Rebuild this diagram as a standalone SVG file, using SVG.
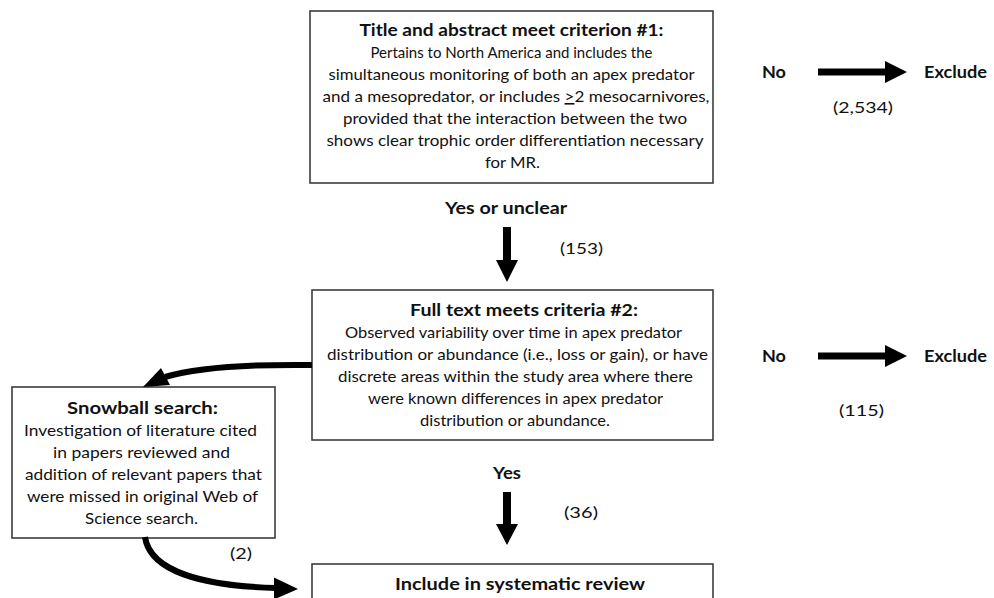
<svg xmlns="http://www.w3.org/2000/svg" width="994" height="598" viewBox="0 0 994 598">
<style>
.box{fill:#fff;stroke:#3c3c3c;stroke-width:1.6}
.t{font-family:Lato,"Liberation Sans",sans-serif;font-size:16px;fill:#111;text-anchor:middle}
.b{font-family:Lato,"Liberation Sans",sans-serif;font-size:17.5px;font-weight:bold;fill:#111;text-anchor:middle}
.arr{fill:#000}
.crv{fill:none;stroke:#000;stroke-width:6}
</style>
<rect width="994" height="598" fill="#fff"/>
<g id="criterion1">
<rect class="box" x="310" y="11" width="403" height="172"/>
<text class="b" x="511.5" y="36" textLength="304" lengthAdjust="spacingAndGlyphs">Title and abstract meet criterion #1:</text>
<text class="t" x="511.5" y="58" textLength="282" lengthAdjust="spacingAndGlyphs">Pertains to North America and includes the</text>
<text class="t" x="511.5" y="80" textLength="366" lengthAdjust="spacingAndGlyphs">simultaneous monitoring of both an apex predator</text>
<text class="t" x="516" y="102" textLength="387" lengthAdjust="spacingAndGlyphs">and a mesopredator, or includes <tspan style="text-decoration:underline">&gt;</tspan>2 mesocarnivores,</text>
<text class="t" x="515" y="124" textLength="344" lengthAdjust="spacingAndGlyphs">provided that the interaction between the two</text>
<text class="t" x="515" y="146" textLength="377" lengthAdjust="spacingAndGlyphs">shows clear trophic order differentiation necessary</text>
<text class="t" x="512.5" y="168" textLength="55" lengthAdjust="spacingAndGlyphs">for MR.</text>
</g>
<g id="criterion2">
<rect class="box" x="312" y="290" width="401" height="150"/>
<text class="b" x="524" y="316" textLength="228" lengthAdjust="spacingAndGlyphs">Full text meets criteria #2:</text>
<text class="t" x="513.5" y="338" textLength="337" lengthAdjust="spacingAndGlyphs">Observed variability over time in apex predator</text>
<text class="t" x="517.5" y="360" textLength="381" lengthAdjust="spacingAndGlyphs">distribution or abundance (i.e., loss or gain), or have</text>
<text class="t" x="515.5" y="382" textLength="355" lengthAdjust="spacingAndGlyphs">discrete areas within the study area where there</text>
<text class="t" x="515.5" y="404" textLength="295" lengthAdjust="spacingAndGlyphs">were known differences in apex predator</text>
<text class="t" x="515" y="426" textLength="190" lengthAdjust="spacingAndGlyphs">distribution or abundance.</text>
</g>
<g id="snowball">
<rect class="box" x="12" y="387" width="263" height="151"/>
<text class="b" x="142.5" y="414" textLength="151" lengthAdjust="spacingAndGlyphs">Snowball search:</text>
<text class="t" x="140.5" y="436" textLength="233" lengthAdjust="spacingAndGlyphs">Investigation of literature cited</text>
<text class="t" x="141.5" y="458" textLength="177" lengthAdjust="spacingAndGlyphs">in papers reviewed and</text>
<text class="t" x="143.5" y="480" textLength="237" lengthAdjust="spacingAndGlyphs">addition of relevant papers that</text>
<text class="t" x="142.5" y="502" textLength="231" lengthAdjust="spacingAndGlyphs">were missed in original Web of</text>
<text class="t" x="141.5" y="524" textLength="113" lengthAdjust="spacingAndGlyphs">Science search.</text>
</g>
<g id="include">
<rect class="box" x="312" y="564" width="401" height="50"/>
<text class="b" x="520" y="590" textLength="250" lengthAdjust="spacingAndGlyphs">Include in systematic review</text>
</g>
<g id="exclude1">
<text class="b" x="955.5" y="78" textLength="63" lengthAdjust="spacingAndGlyphs">Exclude</text>
</g>
<g id="exclude2">
<text class="b" x="955.5" y="362" textLength="63" lengthAdjust="spacingAndGlyphs">Exclude</text>
</g>
<g id="connectors">
<polygon class="arr" points="503,227 511,227 511,260 518,260 507,282 496,260 503,260"/>
<polygon class="arr" points="503,492 511,492 511,524 518,524 507,545 496,524 503,524"/>
<polygon class="arr" points="818,68.5 885,68.5 885,61 907,72 885,83 885,75.5 818,75.5"/>
<polygon class="arr" points="818,352.5 885,352.5 885,345 907,356 885,367 885,359.5 818,359.5"/>
<path class="crv" d="M312,365 C232,364 192,369 165,377"/>
<polygon class="arr" points="143,387 161,368 170,385"/>
<path class="crv" d="M145,537 C150,572 205,586 276,588"/>
<polygon class="arr" points="298,589 274,577.5 274,599.5"/>
<text class="b" x="506" y="214" textLength="122" lengthAdjust="spacingAndGlyphs">Yes or unclear</text>
<text class="t" x="581.5" y="254" textLength="43" lengthAdjust="spacingAndGlyphs">(153)</text>
<text class="b" x="507" y="479" textLength="28" lengthAdjust="spacingAndGlyphs">Yes</text>
<text class="t" x="581" y="518" textLength="34" lengthAdjust="spacingAndGlyphs">(36)</text>
<text class="b" x="774" y="78" textLength="24" lengthAdjust="spacingAndGlyphs">No</text>
<text class="t" x="863" y="113" textLength="60" lengthAdjust="spacingAndGlyphs">(2,534)</text>
<text class="b" x="774" y="362" textLength="24" lengthAdjust="spacingAndGlyphs">No</text>
<text class="t" x="861.5" y="416" textLength="45" lengthAdjust="spacingAndGlyphs">(115)</text>
<text class="t" x="241" y="559" textLength="22" lengthAdjust="spacingAndGlyphs">(2)</text>
</g>
</svg>
